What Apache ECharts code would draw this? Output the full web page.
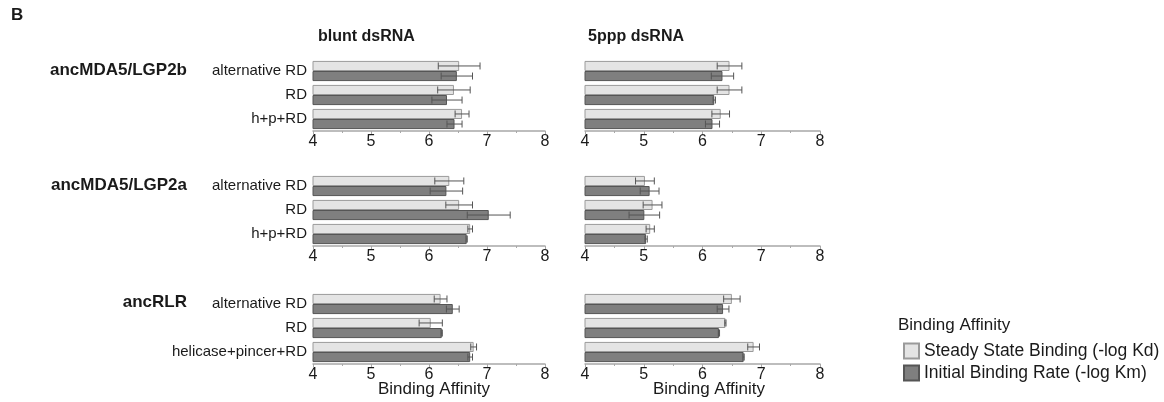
<!DOCTYPE html>
<html><head><meta charset="utf-8">
<script src="https://cdn.jsdelivr.net/npm/echarts@6/dist/echarts.min.js"></script>
<style>html,body{margin:0;padding:0;background:#fff}#c{width:1164px;height:402px}</style>
</head><body><div id="c"></div><script>
const panelTitles = ['blunt dsRNA', '5ppp dsRNA'];
const groupNames = ['ancMDA5/LGP2b', 'ancMDA5/LGP2a', 'ancRLR'];
const catsLGP2b = ['alternative RD', 'RD', 'h+p+RD'];
const catsLGP2a = ['alternative RD', 'RD', 'h+p+RD'];
const catsRLR = ['alternative RD', 'RD', 'helicase+pincer+RD'];
const tickMin = 4, tickMax = 8, tickStep = 1;
const seriesNames = ['Steady State Binding (-log Kd)', 'Initial Binding Rate (-log Km)'];
const axisTitle = 'Binding Affinity';

// blunt dsRNA
const bluntLGP2bKd = [6.52, 6.43, 6.57], bluntLGP2bKdErr = [0.36, 0.28, 0.12];
const bluntLGP2bKm = [6.48, 6.31, 6.44], bluntLGP2bKmErr = [0.27, 0.26, 0.13];
const bluntLGP2aKd = [6.35, 6.52, 6.71], bluntLGP2aKdErr = [0.25, 0.23, 0.04];
const bluntLGP2aKm = [6.30, 7.03, 6.65], bluntLGP2aKmErr = [0.28, 0.37, 0.01];
const bluntRLRKd = [6.20, 6.03, 6.77], bluntRLRKdErr = [0.11, 0.20, 0.05];
const bluntRLRKm = [6.41, 6.22, 6.71], bluntRLRKmErr = [0.11, 0.01, 0.04];
// 5ppp dsRNA
const pppLGP2bKd = [6.46, 6.46, 6.31], pppLGP2bKdErr = [0.21, 0.21, 0.15];
const pppLGP2bKm = [6.34, 6.20, 6.17], pppLGP2bKmErr = [0.19, 0.02, 0.12];
const pppLGP2aKd = [5.02, 5.15, 5.11], pppLGP2aKdErr = [0.16, 0.16, 0.07];
const pppLGP2aKm = [5.10, 5.01, 5.04], pppLGP2aKmErr = [0.16, 0.26, 0.02];
const pppRLRKd = [6.50, 6.39, 6.87], pppRLRKdErr = [0.14, 0.01, 0.10];
const pppRLRKm = [6.35, 6.28, 6.70], pppRLRKmErr = [0.10, 0.01, 0.01];

const panels = [
  {row:0, col:0, cats:catsLGP2b, kd:bluntLGP2bKd, kdE:bluntLGP2bKdErr, km:bluntLGP2bKm, kmE:bluntLGP2bKmErr},
  {row:0, col:1, cats:catsLGP2b, kd:pppLGP2bKd, kdE:pppLGP2bKdErr, km:pppLGP2bKm, kmE:pppLGP2bKmErr},
  {row:1, col:0, cats:catsLGP2a, kd:bluntLGP2aKd, kdE:bluntLGP2aKdErr, km:bluntLGP2aKm, kmE:bluntLGP2aKmErr},
  {row:1, col:1, cats:catsLGP2a, kd:pppLGP2aKd, kdE:pppLGP2aKdErr, km:pppLGP2aKm, kmE:pppLGP2aKmErr},
  {row:2, col:0, cats:catsRLR, kd:bluntRLRKd, kdE:bluntRLRKdErr, km:bluntRLRKm, kmE:bluntRLRKmErr},
  {row:2, col:1, cats:catsRLR, kd:pppRLRKd, kdE:pppRLRKdErr, km:pppRLRKm, kmE:pppRLRKmErr}
];

const FONT = 'Liberation Sans, Arial, sans-serif';
const TXT = '#1a1a1a';
const colLeft = [313, 585], colWidth = [232, 235];
const rowTop = [59, 174, 292], gridH = 72;
const lightStyle = {color:'#e4e4e4', borderColor:'#9a9a9a', borderWidth:1};
const darkStyle = {color:'#7f7f7f', borderColor:'#555555', borderWidth:1};

const grids = [], xAxes = [], yAxes = [], series = [];
panels.forEach((p, i) => {
  grids.push({left: colLeft[p.col], top: rowTop[p.row], width: colWidth[p.col], height: gridH});
  xAxes.push({gridIndex:i, type:'value', min:tickMin, max:tickMax, interval:tickStep,
    axisLine:{show:true, lineStyle:{color:'#a8a8a8', width:1.5}},
    axisTick:{show:true, length:3, inside:false, lineStyle:{color:'#a8a8a8'}},
    minorTick:{show:true, splitNumber:2, length:2, lineStyle:{color:'#a8a8a8'}},
    splitLine:{show:false},
    axisLabel:{fontSize:16, color:TXT, fontFamily:FONT, margin:3}
  });
  yAxes.push({gridIndex:i, type:'category', data:p.cats, inverse:true,
    axisLine:{show:false}, axisTick:{show:false},
    axisLabel:{show:p.col===0, fontSize:15, color:TXT, fontFamily:FONT, margin:6}
  });
  series.push({name:seriesNames[0], type:'bar', xAxisIndex:i, yAxisIndex:i, data:p.kd,
    barGap:'0%', barCategoryGap:'16%', itemStyle:lightStyle, silent:true});
  series.push({name:seriesNames[1], type:'bar', xAxisIndex:i, yAxisIndex:i, data:p.km,
    barGap:'0%', barCategoryGap:'16%', itemStyle:darkStyle, silent:true});
  const errData = [];
  p.cats.forEach((c, k) => {
    errData.push([p.kd[k], k, p.kdE[k], -1]);
    errData.push([p.km[k], k, p.kmE[k], 1]);
  });
  series.push({type:'custom', xAxisIndex:i, yAxisIndex:i, data:errData, silent:true, z:5,
    encode:{x:0, y:1},
    renderItem:(params, api) => {
      const v = api.value(0), k = api.value(1), e = api.value(2), side = api.value(3);
      const band = api.size([0, 1])[1];
      const off = side * band * (1 - 0.16) / 4;
      const a = api.coord([v - e, k]), b = api.coord([v + e, k]);
      const y = a[1] + off, h = 3.5;
      const st = {stroke:'#555', lineWidth:1, fill:null};
      return {type:'group', children:[
        {type:'line', shape:{x1:a[0], y1:y, x2:b[0], y2:y}, style:st},
        {type:'line', shape:{x1:a[0], y1:y-h, x2:a[0], y2:y+h}, style:st},
        {type:'line', shape:{x1:b[0], y1:y-h, x2:b[0], y2:y+h}, style:st}
      ]};
    }
  });
});

const graphics = [
  {type:'text', x:11, y:15, style:{text:'B', font:'bold 17px '+FONT, fill:TXT, verticalAlign:'middle'}},
  {type:'text', x:318, y:37, style:{text:panelTitles[0], font:'bold 16px '+FONT, fill:TXT, verticalAlign:'middle'}},
  {type:'text', x:588, y:37, style:{text:panelTitles[1], font:'bold 16px '+FONT, fill:TXT, verticalAlign:'middle'}},
  {type:'text', x:187, y:70, style:{text:groupNames[0], font:'bold 17px '+FONT, fill:TXT, align:'right', verticalAlign:'middle'}},
  {type:'text', x:187, y:185, style:{text:groupNames[1], font:'bold 17px '+FONT, fill:TXT, align:'right', verticalAlign:'middle'}},
  {type:'text', x:187, y:302, style:{text:groupNames[2], font:'bold 17px '+FONT, fill:TXT, align:'right', verticalAlign:'middle'}},
  {type:'text', x:434, y:389, style:{text:axisTitle, font:'17px '+FONT, fill:TXT, align:'center', verticalAlign:'middle'}},
  {type:'text', x:709, y:389, style:{text:axisTitle, font:'17px '+FONT, fill:TXT, align:'center', verticalAlign:'middle'}},
  {type:'text', x:898, y:325, style:{text:'Binding Affinity', font:'17px '+FONT, fill:TXT, verticalAlign:'middle'}}
];

const chart = echarts.init(document.getElementById('c'), null, {renderer:'canvas'});
chart.setOption({
  animation:false,
  backgroundColor:'#fff',
  grid:grids, xAxis:xAxes, yAxis:yAxes, series:series,
  legend:{data:seriesNames.map(n => ({name:n, icon:'rect'})), orient:'vertical', left:903, top:342, itemWidth:15, itemHeight:15, itemGap:4,
    textStyle:{fontSize:17.5, color:TXT, fontFamily:FONT}, selectedMode:false, padding:0},
  graphic:graphics
});
</script></body></html>
